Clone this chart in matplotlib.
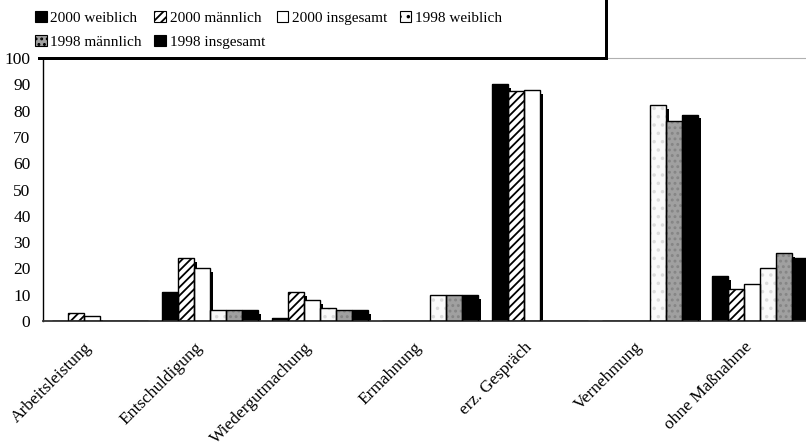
import numpy as np
import matplotlib.pyplot as plt
from matplotlib.patches import Patch, Rectangle
from matplotlib.transforms import ScaledTranslation

plt.rcParams['font.family'] = ['Liberation Serif', 'DejaVu Serif']
plt.rcParams['hatch.linewidth'] = 1.3

categories = ['Arbeitsleistung', 'Entschuldigung', 'Wiedergutmachung', 'Ermahnung',
              'erz. Gespräch', 'Vernehmung', 'ohne Maßnahme']
series_names = ['2000 weiblich', '2000 männlich', '2000 insgesamt',
                '1998 weiblich', '1998 männlich', '1998 insgesamt']
w2000 = [0, 11, 1, 0, 90, 0, 17]
m2000 = [3, 24, 11, 0, 87.5, 0, 12]
i2000 = [2, 20, 8, 0, 88, 0, 14]
w1998 = [0, 4, 5, 10, 0, 82, 20]
m1998 = [0, 4, 4, 10, 0, 76, 26]
i1998 = [0, 4, 4, 10, 0, 78.5, 24]
yticks = list(range(0, 101, 10))

values = [w2000, m2000, i2000, w1998, m1998, i1998]
# fill, hatch, hatch colour
styles = [('black', None, 'black'),
          ('white', '////', 'black'),
          ('white', None, 'black'),
          ('#fafafa', '..', '#dcdcdc'),
          ('#a0a0a0', '...', '#858585'),
          ('black', None, 'black')]

fig = plt.figure(figsize=(8.06, 4.48), dpi=100)
ax = fig.add_axes([43 / 806, 1 - 321 / 448, 1 - 43 / 806, (321 - 58) / 448])

bw = 16 / 110
dx = 3 / 110      # shadow offset, right
dy = 1.5          # shadow offset, down (data units)
x = np.arange(len(categories))

for j, vals in enumerate(values):
    fc, hatch, hc = styles[j]
    xs = x + (j - 2.5) * bw
    vals = np.array(vals, dtype=float)
    # drop shadow behind the bars
    sh = np.where(vals > 0, np.maximum(vals - dy, 0.4), 0)
    ax.bar(xs + dx, sh, bw, color='black', linewidth=0, zorder=1)
    ax.bar(xs, vals, bw, facecolor=fc, edgecolor=hc, hatch=hatch, linewidth=0, zorder=2)
    ax.bar(xs, np.where(vals > 0, vals, 0), bw, fill=False, edgecolor='black',
           linewidth=1.0 if vals.max() > 0 else 0, zorder=3)

ax.set_xlim(-0.518, 6.418)
ax.set_ylim(0, 100)
ax.set_yticks(yticks)
ax.tick_params(axis='y', length=0, pad=9, labelsize=12.5)
ax.set_xticks(x)
ax.set_xticklabels(categories, rotation=45, ha='right', va='top',
                   rotation_mode='anchor', fontsize=12.5)
ax.tick_params(axis='x', length=0, pad=13)
off = ScaledTranslation(-16 / 100, 0, fig.dpi_scale_trans)
for lab in ax.get_xticklabels():
    lab.set_transform(lab.get_transform() + off)

ax.spines['right'].set_visible(False)
ax.spines['top'].set_color('#b0b0b0')
ax.spines['top'].set_linewidth(0.8)
ax.spines['left'].set_linewidth(1.0)
ax.spines['bottom'].set_linewidth(1.3)
ax.spines['bottom'].set_color('#333333')

# legend box: only the thick bottom/right shadow edge shows
fw, fh = 806, 448
fig.patches.append(Rectangle((38 / fw, 1 - 60 / fh), 570 / fw, 70 / fh, transform=fig.transFigure,
                             facecolor='black', edgecolor='none', zorder=5))
fig.patches.append(Rectangle((30 / fw, 1 - 57 / fh), 575 / fw, 70 / fh, transform=fig.transFigure,
                             facecolor='white', edgecolor='none', zorder=6))

handles = []
for j in range(6):
    fc, hatch, hc = styles[j]
    handles.append(Patch(facecolor=fc, edgecolor='black', hatch=hatch, linewidth=0.8))
order = [0, 4, 1, 5, 2, 3]
leg = fig.legend([handles[k] for k in order], [series_names[k] for k in order],
                 ncol=4, loc='upper left', bbox_to_anchor=(23 / fw, 1 + 1 / fh),
                 frameon=False, fontsize=11, handlelength=0.75, handleheight=0.75,
                 handletextpad=0.25, columnspacing=0.8, labelspacing=0.62,
                 borderpad=0.3)
leg.set_zorder(7)

fig.savefig('out.png', dpi=100)
